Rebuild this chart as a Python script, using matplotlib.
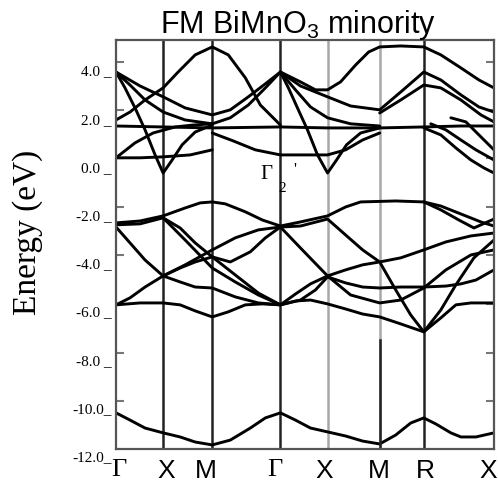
import matplotlib
matplotlib.use("Agg")
import matplotlib.pyplot as plt
import matplotlib.transforms as mtrans

plt.rcParams['mathtext.fontset'] = 'custom'
plt.rcParams['mathtext.rm'] = 'Liberation Sans'

# high symmetry points along the path (path units)
kpts = [0, 47, 96, 164, 211, 263, 307, 377]
klabels = ['Γ', 'X', 'M', 'Γ', 'X', 'M', 'R', 'X']
klabel_pos = [3, 50, 90, 158, 208, 262, 309, 371]

# y axis labels (as printed) and the inner tick marks
ylabel_vals = [4.0, 2.0, 0.0, -2.0, -4.0, -6.0, -8.0, -10.0, -12.0]
ylabel_txt = ['4.0 _', '2.0 _', '0.0 _', '-2.0 _', '-4.0 _', '-6.0 _', '-8.0 _', '-10.0_', '-12.0_']
ytick_marks = [4.42, 2.43, 0.44, -1.60, -3.59, -5.62, -7.66, -9.65]

# bands, (k, E in eV)
bi_s = [(0, -10.14), (14, -10.44), (29, -10.77), (47, -10.97), (64, -11.14), (79, -11.35),
        (96, -11.47), (114, -11.27), (134, -10.77), (149, -10.35), (164, -10.14), (179, -10.44),
        (194, -10.77), (211, -10.93), (229, -11.10), (246, -11.31), (263, -11.43), (279, -11.06),
        (294, -10.56), (307, -10.35), (319, -10.60), (334, -10.97), (344, -11.14), (359, -11.14),
        (377, -10.97)]

vb1 = [(0, -2.26), (24, -2.18), (47, -1.97), (69, -1.64), (84, -1.43), (96, -1.39), (109, -1.47),
       (129, -1.80), (146, -2.14), (164, -2.39), (184, -2.22), (211, -1.97), (229, -1.60),
       (244, -1.39), (279, -1.35), (307, -1.39), (324, -1.56), (344, -1.89), (364, -2.22), (377, -2.39)]
vb2 = [(0, -2.34), (24, -2.30), (47, -2.05), (64, -2.47), (79, -3.09), (96, -3.67), (114, -3.88),
       (134, -3.46), (149, -2.88), (164, -2.43), (184, -2.39), (211, -2.10), (229, -2.76),
       (246, -3.38), (263, -3.88), (284, -3.71), (307, -3.38), (329, -3.05), (354, -2.80), (377, -2.68)]
vb3 = [(0, -2.43), (14, -3.09), (29, -3.80), (47, -4.46), (64, -4.13), (79, -3.88), (96, -3.67),
       (119, -4.42), (142, -5.17), (164, -5.66), (179, -5.21), (194, -4.79), (211, -4.46),
       (229, -4.21), (246, -4.00), (263, -3.88), (279, -5.04), (294, -6.08), (307, -6.78),
       (324, -5.87), (339, -4.83), (357, -3.71), (377, -2.97)]
vb4 = [(0, -5.66), (14, -5.37), (29, -4.92), (47, -4.46), (64, -4.71), (79, -4.92), (96, -4.96),
       (119, -5.33), (142, -5.58), (164, -5.66), (184, -5.46), (199, -5.04), (211, -4.50),
       (229, -4.75), (246, -4.92), (263, -4.96), (284, -4.92), (307, -4.92), (329, -4.88),
       (344, -4.79), (359, -4.63), (377, -4.21)]
vb5 = [(0, -5.66), (24, -5.58), (47, -5.58), (64, -5.66), (79, -5.91), (96, -6.16), (112, -5.95),
       (129, -5.66), (146, -5.62), (164, -5.66), (179, -5.50), (194, -5.46), (211, -5.62),
       (229, -5.83), (246, -6.04), (263, -6.16), (284, -6.45), (307, -6.78), (324, -6.20),
       (339, -5.66), (354, -5.58), (377, -5.58)]
vb6 = [(47, -2.05), (69, -2.97), (96, -4.13), (119, -4.71), (142, -5.25), (164, -5.66)]
vb7 = [(47, -4.46), (69, -4.00), (96, -3.38), (119, -2.88), (142, -2.55), (164, -2.43)]
vb8 = [(164, -2.43), (184, -3.30), (211, -4.46), (234, -5.25), (263, -5.58), (284, -5.46),
       (307, -4.96), (329, -4.21), (354, -3.59), (377, -3.38)]
vb9 = [(307, -1.39), (324, -1.72), (342, -2.14), (357, -2.47), (377, -2.10)]

cb1 = [(0, 2.01), (14, 2.34), (29, 2.84), (47, 3.34), (62, 4.00), (79, 4.71), (96, 5.04),
       (112, 4.71), (129, 3.76), (144, 2.63), (164, 1.80)]
cb2 = [(0, 4.00), (9, 3.34), (19, 2.51), (29, 1.60), (39, 0.56), (47, -0.19), (56, 0.35),
       (66, 0.98), (79, 1.51), (96, 1.80)]
cb2b = [(164, 4.00), (172, 3.34), (181, 2.51), (191, 1.60), (201, 0.56), (211, -0.19), (220, 0.35),
        (230, 0.98), (244, 1.47), (263, 1.68)]
cb3 = [(0, 4.00), (24, 3.42), (47, 2.97), (69, 2.51), (96, 2.22), (114, 2.43), (132, 2.97),
       (149, 3.51), (164, 4.00), (184, 3.42), (211, 2.97), (234, 2.59), (263, 2.43), (284, 3.17),
       (307, 4.00), (324, 3.67), (344, 3.05), (362, 2.55), (377, 2.34)]
cb4 = [(0, 4.00), (14, 3.46), (29, 2.84), (47, 2.34), (69, 2.01), (96, 1.85), (114, 2.10),
       (132, 2.63), (149, 3.34), (164, 4.00), (179, 3.26), (194, 2.55), (211, 2.10), (234, 1.85),
       (263, 1.76)]
cb5 = [(164, 4.00), (184, 3.59), (199, 3.26), (211, 3.26), (224, 3.59), (239, 4.29), (252, 4.83),
       (263, 5.04), (284, 5.08), (307, 5.04), (324, 4.71), (344, 4.17), (362, 3.67), (377, 3.34)]
cb6 = [(0, 0.44), (24, 0.44), (47, 0.48), (74, 0.56), (96, 0.77)]
cb7 = [(96, 1.47), (117, 1.14), (139, 0.77), (164, 0.56), (189, 0.56), (211, 0.56), (229, 0.77),
       (246, 1.18), (263, 1.47)]
cb8 = [(0, 0.44), (19, 1.06), (37, 1.47), (59, 1.72), (77, 1.80), (96, 1.85)]
cb_flat = [(0, 1.76), (47, 1.72), (96, 1.68), (164, 1.72), (211, 1.68), (263, 1.68), (307, 1.72),
           (344, 1.76), (377, 1.76)]
cb10 = [(307, 1.68), (324, 1.39), (339, 0.85), (354, 0.35), (367, 0.02), (377, -0.19)]
cb11 = [(314, 1.85), (329, 1.60), (344, 1.18), (359, 0.77), (377, 0.35)]
cb12 = [(334, 2.10), (349, 1.93), (362, 1.39), (377, 0.77)]
cb13 = [(263, 2.30), (284, 2.84), (307, 3.46), (324, 3.34), (344, 2.84), (364, 2.22), (377, 1.93)]

bands = [bi_s, vb1, vb2, vb3, vb4, vb5, vb6, vb7, vb8, vb9,
         cb1, cb2, cb2b, cb3, cb4, cb5, cb6, cb7, cb8, cb_flat, cb10, cb11, cb12, cb13]

fig = plt.figure(figsize=(4.98, 4.87), dpi=100)
ax = fig.add_axes([0.2329, 0.078, 0.759, 0.840])

for b in bands:
    ax.plot([p[0] for p in b], [p[1] for p in b], color='black', lw=2.1,
            solid_joinstyle='round', solid_capstyle='round')

# symmetry lines
for i, k in enumerate(kpts[1:-1]):
    if i in (3, 4):
        ax.axvline(k, color='#a8a8a8', lw=1.8, zorder=0)
    else:
        ax.axvline(k, color='#222222', lw=1.8, zorder=0)
ax.plot([kpts[5], kpts[5]], [-11.64, -7.12], color='#222222', lw=1.8)

ax.set_xlim(0, 377)
ax.set_ylim(-11.64, 5.33)
for s in ax.spines.values():
    s.set_color('#555555')
    s.set_linewidth(1.6)

ax.set_yticks(ytick_marks)
ax.tick_params(axis='y', direction='in', length=6, width=1.5, color='#777777',
               left=True, right=True, labelleft=False)
ax.set_xticks(klabel_pos)
ax.set_xticklabels(klabels, fontsize=19, family='Liberation Sans')
ax.tick_params(axis='x', length=0, pad=7)
for t in ax.get_xticklabels():
    if t.get_text() == 'Γ':
        t.set_family('Liberation Serif')

trans = mtrans.blended_transform_factory(ax.transAxes, ax.transData)
for v, s in zip(ylabel_vals, ylabel_txt):
    ax.text(-0.012, v, s, transform=trans, ha='right', va='center',
            fontsize=11, family='Liberation Serif')

ax.text(150, -0.27, 'Γ', fontsize=15, family='Liberation Serif', ha='center', va='center')
ax.text(166, -0.85, '2', fontsize=11, family='Liberation Serif', ha='center', va='center')
ax.text(178, -0.06, "'", fontsize=12, family='Liberation Serif', ha='center', va='center')

fig.text(0.598, 0.949, 'FM BiMnO$_3$ minority', fontsize=22, family='Liberation Sans',
         ha='center', va='center')
fig.text(0.056, 0.522, 'Energy (eV)', fontsize=24, family='Liberation Serif',
         rotation=90, ha='center', va='center')

fig.savefig('out.png', dpi=100)
